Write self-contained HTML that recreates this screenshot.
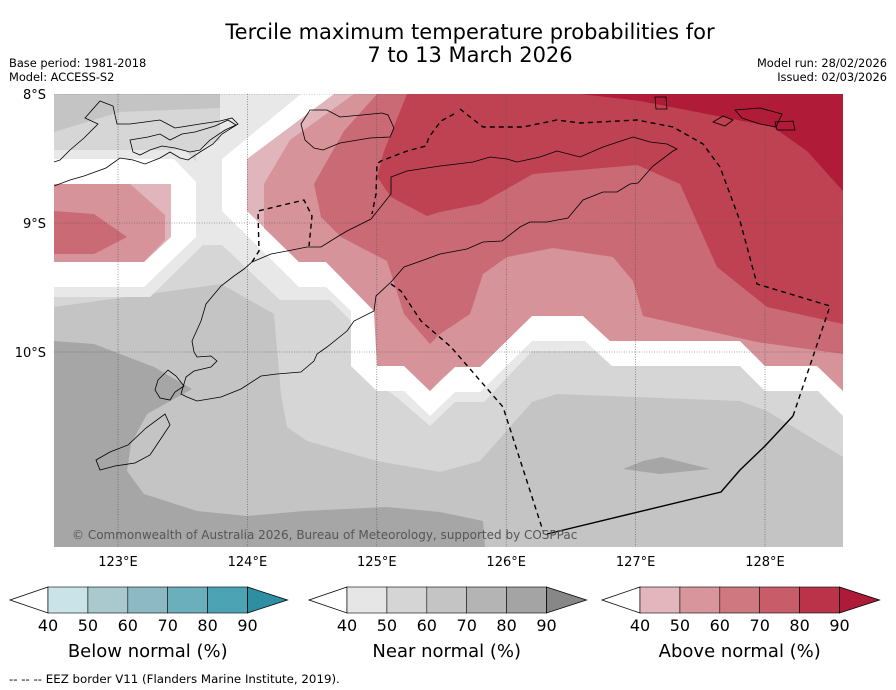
<!DOCTYPE html>
<html><head><meta charset="utf-8"><style>
body{margin:0;background:#fff;width:896px;height:690px;overflow:hidden;font-family:"Liberation Sans","DejaVu Sans",sans-serif}
svg{display:block}
</style></head><body>
<svg id="fig" width="896" height="690" viewBox="0 0 896 690" xmlns="http://www.w3.org/2000/svg" font-family="DejaVu Sans, Liberation Sans, sans-serif">
<text x="470" y="39" font-size="21" text-anchor="middle">Tercile maximum temperature probabilities for</text>
<text x="470" y="62" font-size="21" text-anchor="middle">7 to 13 March 2026</text>
<text x="9" y="67" font-size="11.4">Base period: 1981-2018</text>
<text x="9" y="81" font-size="11.4">Model: ACCESS-S2</text>
<text x="887" y="67" font-size="11.4" text-anchor="end">Model run: 28/02/2026</text>
<text x="887" y="81" font-size="11.4" text-anchor="end">Issued: 02/03/2026</text>
<defs><clipPath id="mapclip"><rect x="54" y="94" width="789" height="453"/></clipPath></defs>
<g clip-path="url(#mapclip)">
<rect x="54" y="94" width="789" height="453" fill="#c4c4c4"/>
<polygon fill="#d6d6d6" points="54,132 120,112 220,108 220,94 843,94 843,457 767,411 740,401 557,394 532,402 480,461 440,472 377,461 307,441 287,427 281,394 274,314 221,284 54,307"/>
<polygon fill="#a6a6a6" points="54,341 94,344 154,367 192,389 147,414 131,444 127,471 144,494 197,511 247,516 304,511 387,507 440,512 483,521 485,547 54,547"/>
<polygon fill="#a6a6a6" points="623,469 643,461 662,457 710,469 660,474"/>
<polygon fill="#e8e8e8" points="220,94 843,94 843,351 560,351 532,351 484,402 455,402 430,426 400,400 360,370 360,330 330,300 280,300 222,245 196,245 196,150 220,140"/>
<polygon fill="#e8e8e8" points="54,150 185,150 206,172 206,242 150,297 54,297"/>
<polygon fill="#ffffff" points="54,159 174,159 196,182 196,237 144,287 54,287"/>
<polygon fill="#ffffff" points="301,94 843,94 843,416 818,391 765,391 740,366 612,366 585,341 532,341 480,392 455,392 430,416 404,391 377,391 351,366 351,311 326,287 299,287 222,211 222,159"/>
<polygon fill="#e0b5bb" points="54,184 171,184 171,237 144,262 54,262"/>
<polygon fill="#d6939a" points="54,184 130,184 165,215 165,240 144,262 54,262"/>
<polygon fill="#c96a74" points="54,211 94,214 127,237 94,254 54,254"/>
<polygon fill="#e0b5bb" points="334,94 843,94 843,391 817,366 765,366 740,341 610,341 583,316 532,316 480,367 455,367 440,381 430,391 404,366 377,366 374,311 326,262 299,262 247,211 247,159"/>
<polygon fill="#d6939a" points="354,94 843,94 843,391 817,366 765,366 740,341 610,341 583,316 532,316 480,367 455,367 440,381 430,391 404,366 377,366 374,311 326,262 299,262 264,228 264,184 290,140"/>
<polygon fill="#c96a74" points="377,94 843,94 843,354 757,342 643,316 633,281 613,257 553,248 507,257 483,274 470,314 440,334 430,344 404,314 387,261 341,237 321,217 314,184 344,131"/>
<polygon fill="#bf4252" points="407,94 843,94 843,324 767,307 717,267 680,184 637,165 533,174 480,204 440,212 427,216 391,197 377,177 384,151"/>
<polygon fill="#b01b38" points="580,94 843,94 843,191 807,151 773,127 707,114 640,101"/>
<g id="grid"></g>
<g fill="none" stroke="#000" stroke-width="0.8">
<path d="M252,262 L271,254 287,251 307,247 321,247 337,237 347,231 371,219 391,194 391,177 407,171 440,166 457,164 473,162 490,157 507,159 517,162 540,157 557,151 580,157 603,147 633,137 650,142 667,144 677,149 673,151 653,166 638,183 630,184 617,192 603,192 583,200 568,218 547,222 530,222 520,227 502,241 483,242 467,249 440,254 421,261 404,267 391,282 376,296 374,311 354,321 347,331 327,347 317,354 314,361 301,372 277,374 261,376 241,389 221,397 197,401 187,397 181,394 186,377 194,371 211,367 217,361 211,356 197,357 194,352 192,341 201,321 206,304 221,286 234,276 244,269 Z"/>
<path d="M54,186 L70,180 84,176 95,172 106,168 120,158 133,160 145,164 160,158 170,152 180,158 188,160 200,152 213,144 222,134 238,124 232,118 220,121 200,124 175,128 160,120 145,122 130,124 117,124 113,106 100,101 85,118 98,124 84,138 70,150 60,160 54,162"/>
<path d="M130,140 L148,137 160,134 170,140 182,134 195,132 215,126 228,120 236,125 225,130 210,140 200,150 190,152 175,148 162,146 150,150 140,155 133,152 Z"/>
<path d="M301,124 L310,110 327,110 340,117 362,115 382,113 388,115 394,128 390,137 370,138 340,143 323,150 314,148 305,140 Z"/>
<path d="M158,380 L168,370 176,376 184,386 175,392 170,400 160,398 155,390 Z"/>
<path d="M96,460 L110,452 128,445 146,428 165,414 170,425 160,440 150,455 135,463 115,466 100,470 Z"/>
<path d="M655,97 L666,97 667,109 656,109 Z M713,122 L723,116 733,120 725,126 Z M735,110 L760,108 782,114 776,127 760,124 742,118 Z M775,122 L793,121 795,130 777,130 Z"/>
</g>
<g fill="none" stroke="#000" stroke-width="1.4" stroke-dasharray="5,4">
<polyline points="454,114 441,121 429,137 426,146 407,151 381,161 377,164 376,194 372,214"/>
<polyline points="460,109 483,127 523,127 557,120 580,123 637,120 673,127 703,144 720,167 740,221 757,284 830,306 793,416"/>
<polyline points="391,284 401,291 421,321 451,347 503,407 543,531"/>
<polyline points="252,262 259,251 258,211 304,200 312,216 309,246"/>
</g>
<polyline fill="none" stroke="#000" stroke-width="1.4" points="793,416 765,446 740,470 721,492 547,534"/>
<text x="72" y="539" font-size="12" fill="#555">© Commonwealth of Australia 2026, Bureau of Meteorology, supported by COSPPac</text>
</g>
<g id="axislabels"></g>
<g id="cbars"></g>
<text x="9" y="683" font-size="11.8">-- -- -- EEZ border V11 (Flanders Marine Institute, 2019).</text>
</svg>
<script>
const lonTicks=[123,124,125,126,127,128];
const latTicks=[8,9,10];
const cbLevels=[40,50,60,70,80,90];
const belowColors=["#cae3e9","#a9c9ce","#8cb9c3","#6cafbc","#4ba3b4"];
const nearColors=["#e6e6e6","#d5d5d5","#c4c4c4","#b4b4b4","#a4a4a4"];
const aboveColors=["#e3b6bd","#d8959c","#d0787f","#c75d69","#bb3349"];
const arrowColors=["#2e8fa3","#878787","#ae1b38"];
const cbTitles=["Below normal (%)","Near normal (%)","Above normal (%)"];
const NS="http://www.w3.org/2000/svg";
const xLon=l=>118+(l-123)*129.4;
const yLat=l=>94+(l-8)*129;
function mk(tag,attrs,parent){const e=document.createElementNS(NS,tag);for(const k in attrs)e.setAttribute(k,attrs[k]);parent.appendChild(e);return e;}
const grid=document.getElementById('grid'),ax=document.getElementById('axislabels');
lonTicks.forEach(l=>{
 const ln=mk('line',{x1:xLon(l),x2:xLon(l),y1:94,y2:547,stroke:'#555','stroke-width':0.6,'stroke-dasharray':'1,1.5'},grid);
 
 
 const t=mk('text',{x:xLon(l),y:566,'font-size':13,'text-anchor':'middle'},ax);t.textContent=l+'°E';
 
 
});
latTicks.forEach(l=>{
 const ln=mk('line',{x1:54,x2:843,y1:yLat(l),y2:yLat(l),stroke:'#555','stroke-width':0.6,'stroke-dasharray':'1,1.5'},grid);
 
 
 const t=mk('text',{x:46,y:yLat(l)+5,'font-size':13,'text-anchor':'end'},ax);t.textContent=l+'°S';
 
 
});
const cb=document.getElementById('cbars');
const starts=[48,347,640],w=199.5/5;
[belowColors,nearColors,aboveColors].forEach((cols,i)=>{
 const x0=starts[i],y0=587,h=26,x1=x0+5*w;
 const lt=mk('polygon',{points:`${x0},${y0} ${x0-38},${y0+h/2} ${x0},${y0+h}`,fill:'#fff',stroke:'#000','stroke-width':0.8},cb);
 
 
 cols.forEach((c,j)=>{
  const r=mk('rect',{x:x0+j*w,y:y0,width:w,height:h,fill:c,stroke:'#000','stroke-width':0.6},cb);
  
  
 });
 const rt=mk('polygon',{points:`${x1},${y0} ${x1+40},${y0+h/2} ${x1},${y0+h}`,fill:arrowColors[i],stroke:'#000','stroke-width':0.8},cb);
 
 
 cbLevels.forEach((v,j)=>{
  const t=mk('text',{x:x0+j*w,y:631,'font-size':16,'text-anchor':'middle'},cb);t.textContent=v;
  
  
 });
 const tt=mk('text',{x:x0+2.5*w,y:657,'font-size':18,'text-anchor':'middle'},cb);tt.textContent=cbTitles[i];
 
 
});
</script>
</body></html>
